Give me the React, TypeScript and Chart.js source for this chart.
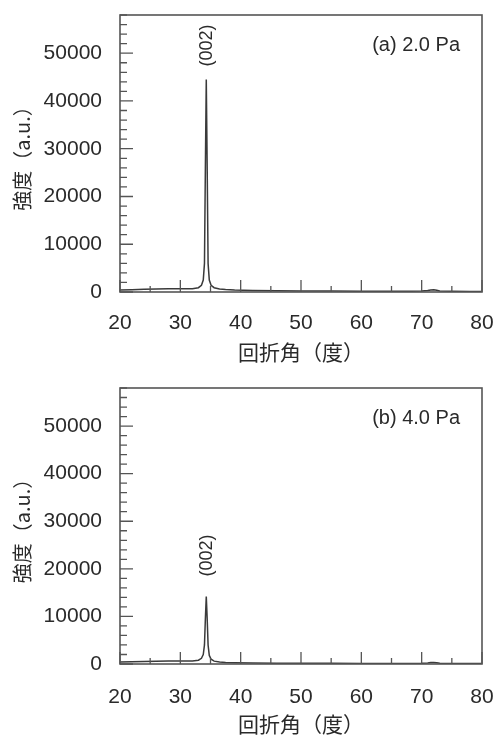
import React, { useEffect, useRef } from "react";
import { Chart, registerables } from "chart.js";

Chart.register(...registerables);

// ---- data ----
const angles = [20, 22, 24, 26, 28, 30, 31, 32, 33, 33.5, 33.8, 34.0, 34.15, 34.3, 34.45, 34.6, 34.8, 35.1, 35.6, 36.5, 37.5, 39, 42, 46, 50, 55, 60, 65, 68, 70, 71, 71.5, 72, 72.5, 73, 75, 78, 80];
const intensityA = [400, 450, 550, 650, 700, 700, 680, 700, 900, 1400, 2500, 6000, 26000, 44500, 26000, 6000, 2500, 1400, 900, 650, 500, 400, 300, 250, 200, 200, 150, 150, 150, 200, 300, 420, 480, 350, 200, 150, 100, 100];
const intensityB = [400, 450, 550, 600, 650, 650, 620, 650, 800, 1200, 2000, 4000, 9500, 14200, 9500, 4000, 1800, 1000, 600, 400, 300, 250, 200, 150, 150, 150, 100, 100, 100, 150, 220, 300, 330, 250, 150, 100, 100, 100];

const xTickValues = [20, 30, 40, 50, 60, 70, 80];
const xMinorTickValues = [25, 35, 45, 55, 65, 75];
const yTickValues = [0, 10000, 20000, 30000, 40000, 50000];
const yMinorStep = 2000;
const xMin = 20;
const xMax = 80;
const yMin = 0;
const yMax = 58000;

const peakLabel = "(002)";
const peakLabelAngle = 34.4;
const peakLabelYA = 51600;
const peakLabelYB = 22800;
const panelLabels = ["(a) 2.0 Pa", "(b) 4.0 Pa"];
const xTitle = "回折角（度）";
const yTitle = "強度（a.u.）";

const LATIN = "'Liberation Sans', Arial, sans-serif";
const CJK = "'Noto Sans CJK JP', 'Liberation Sans', sans-serif";
const TEXT = "#2a2a2a";
const AXIS = "#555";

type PanelProps = {
  values: number[];
  panelText: string;
  peakY: number;
  height: number;
  padTop: number;
  padBottom: number;
  xAxisHeight: number;
  xTickPad: number;
};

function zeroPadding(s: any) {
  s.paddingTop = 0;
  s.paddingBottom = 0;
  s.paddingLeft = 0;
  s.paddingRight = 0;
}

function makeDecor(panelText: string, peakY: number) {
  return {
    id: "decor",
    afterDatasetsDraw(chart: any) {
      const { ctx, chartArea: a, scales } = chart;
      const x = scales.x;
      const y = scales.y;
      ctx.save();
      // frame
      ctx.strokeStyle = AXIS;
      ctx.lineWidth = 1.6;
      ctx.strokeRect(a.left, a.top, a.right - a.left, a.bottom - a.top);
      // x ticks (inward)
      ctx.lineWidth = 1.3;
      ctx.beginPath();
      for (const v of xTickValues) {
        const px = x.getPixelForValue(v);
        ctx.moveTo(px, a.bottom);
        ctx.lineTo(px, a.bottom - 12);
      }
      for (const v of xMinorTickValues) {
        const px = x.getPixelForValue(v);
        ctx.moveTo(px, a.bottom);
        ctx.lineTo(px, a.bottom - 6);
      }
      // y ticks (inward)
      for (let v = yMin; v <= yMax; v += yMinorStep) {
        const py = y.getPixelForValue(v);
        const major = yTickValues.indexOf(v) >= 0;
        ctx.moveTo(a.left, py);
        ctx.lineTo(a.left + (major ? 13 : 7), py);
      }
      ctx.stroke();
      // peak label
      ctx.fillStyle = TEXT;
      ctx.font = `18px ${LATIN}`;
      ctx.translate(x.getPixelForValue(peakLabelAngle), y.getPixelForValue(peakY));
      ctx.rotate(-Math.PI / 2);
      ctx.textAlign = "center";
      ctx.textBaseline = "middle";
      ctx.fillText(peakLabel, 0, 0);
      ctx.restore();
      // panel label
      ctx.save();
      ctx.fillStyle = TEXT;
      ctx.font = `20px ${LATIN}`;
      ctx.textAlign = "right";
      ctx.textBaseline = "middle";
      ctx.fillText(panelText, a.right - 22, a.top + 30);
      ctx.restore();
    },
  };
}

function Panel(props: PanelProps) {
  const ref = useRef<HTMLCanvasElement | null>(null);
  useEffect(() => {
    if (!ref.current) return;
    const chart = new Chart(ref.current, {
      type: "line",
      data: {
        datasets: [
          {
            data: angles.map((a, i) => ({ x: a, y: props.values[i] })),
            borderColor: "#3a3a3a",
            borderWidth: 1.5,
            pointRadius: 0,
            tension: 0,
            fill: false,
          },
        ],
      },
      options: {
        animation: false,
        responsive: false,
        maintainAspectRatio: false,
        devicePixelRatio: 1,
        layout: { padding: { top: props.padTop, right: 15, bottom: props.padBottom, left: 0 } },
        plugins: { legend: { display: false }, tooltip: { enabled: false } },
        scales: {
          x: {
            type: "linear",
            min: xMin,
            max: xMax,
            grid: { display: false, drawTicks: false },
            border: { display: false },
            afterBuildTicks: (s: any) => {
              s.ticks = xTickValues.map((v) => ({ value: v }));
            },
            afterFit: (s: any) => {
              s.height = props.xAxisHeight;
              zeroPadding(s);
            },
            ticks: {
              color: TEXT,
              font: { family: LATIN, size: 21, lineHeight: 1.2 },
              padding: props.xTickPad,
              maxRotation: 0,
              autoSkip: false,
              callback: (v: any) => String(v),
            },
            title: {
              display: true,
              text: xTitle,
              color: TEXT,
              font: { family: CJK, size: 21, lineHeight: 1 },
              padding: { top: 0, bottom: 0 },
            },
          },
          y: {
            type: "linear",
            min: yMin,
            max: yMax,
            grid: { display: false, drawTicks: false },
            border: { display: false },
            afterBuildTicks: (s: any) => {
              s.ticks = yTickValues.map((v) => ({ value: v }));
            },
            afterFit: (s: any) => {
              s.width = 120;
              zeroPadding(s);
            },
            ticks: {
              color: TEXT,
              font: { family: LATIN, size: 21 },
              padding: 18,
              autoSkip: false,
              callback: (v: any) => String(v),
            },
            title: {
              display: true,
              text: yTitle,
              color: TEXT,
              font: { family: CJK, size: 20, lineHeight: 1 },
              padding: { top: 12, bottom: 0 },
            },
          },
        },
      },
      plugins: [makeDecor(props.panelText, props.peakY)],
    } as any);
    return () => chart.destroy();
  }, []);
  return <canvas ref={ref} width={497} height={props.height} style={{ display: "block", width: 497, height: props.height }} />;
}

export default function App() {
  return (
    <div style={{ position: "absolute", left: 0, top: 0, width: 497, height: 735, background: "#fff" }}>
      <Panel values={intensityA} panelText={panelLabels[0]} peakY={peakLabelYA} height={368} padTop={15} padBottom={5} xAxisHeight={71} xTickPad={19} />
      <Panel values={intensityB} panelText={panelLabels[1]} peakY={peakLabelYB} height={367} padTop={20} padBottom={0} xAxisHeight={71} xTickPad={21} />
    </div>
  );
}
